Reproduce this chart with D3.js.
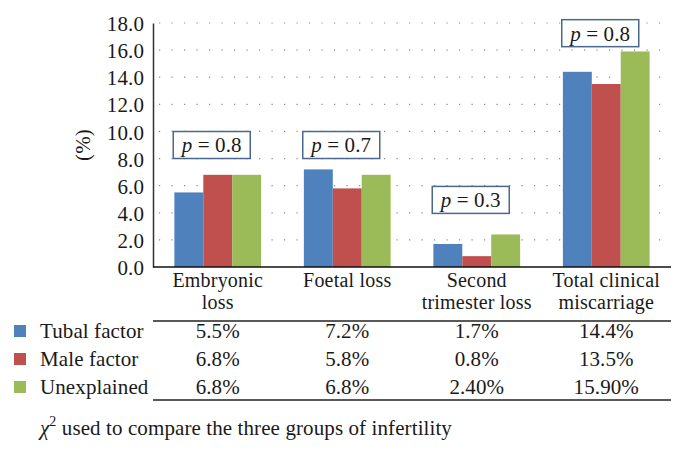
<!DOCTYPE html>
<html><head><meta charset="utf-8">
<script src="https://cdn.jsdelivr.net/npm/d3@7"></script>
<style>
body{margin:0;background:#fff;}
text{font-family:"Liberation Serif","Times New Roman",serif;fill:#1a1a1a;}
</style></head>
<body>
<svg id="c" width="686" height="450"></svg>
<script>
const categories = [["Embryonic","loss"],["Foetal loss"],["Second","trimester loss"],["Total clinical","miscarriage"]];
const seriesNames = ["Tubal factor","Male factor","Unexplained"];
const tubal = [5.5, 7.2, 1.7, 14.4];
const male = [6.8, 5.8, 0.8, 13.5];
const unexplained = [6.8, 6.8, 2.4, 15.9];
const tubalLabels = ["5.5%","7.2%","1.7%","14.4%"];
const maleLabels = ["6.8%","5.8%","0.8%","13.5%"];
const unexplainedLabels = ["6.8%","6.8%","2.40%","15.90%"];
const pValues = ["0.8","0.7","0.3","0.8"];
const pBoxCenter = [9.0, 9.0, 4.95, 17.25];
const yTicks = [0,2,4,6,8,10,12,14,16,18];
const colors = ["#4f81bd","#c0504d","#9bbb59"];

const series = [tubal, male, unexplained];
const labels = [tubalLabels, maleLabels, unexplainedLabels];
const svg = d3.select("#c");
const L = 153, R = 671, T = 23, B = 267;
const FS = 21, LS = 0.1;

const x0 = d3.scaleBand().domain(d3.range(categories.length)).range([L, R]).paddingInner(0.33).paddingOuter(0.165);
const x1 = d3.scaleBand().domain(d3.range(3)).range([0, x0.bandwidth()]);
const y = d3.scaleLinear().domain([0, 18]).range([B, T]);

// grid
svg.append("g").selectAll("line").data(yTicks.filter(d => d > 0)).join("line")
  .attr("x1", L + 6).attr("x2", R).attr("y1", d => y(d)).attr("y2", d => y(d))
  .attr("stroke", "#8a8a8a").attr("stroke-width", 1.2).attr("stroke-dasharray", "1.2,11.3");

// y axis
const yAxis = d3.axisLeft(y).tickValues(yTicks).tickFormat(d3.format(".1f")).tickSize(0).tickPadding(9);
const gy = svg.append("g").attr("transform", `translate(${L},0)`).call(yAxis);
gy.select(".domain").attr("stroke", "#333").attr("stroke-width", 1.5);
gy.selectAll("text").style("font-family", '"Liberation Serif",serif').attr("font-size", FS).attr("letter-spacing", LS).attr("fill", "#1a1a1a").attr("dy", "0.36em");

svg.append("text").attr("transform", "translate(90,145) rotate(-90)").attr("text-anchor", "middle")
  .attr("font-size", FS).attr("letter-spacing", LS).text("(%)");

// bars
const groups = svg.append("g").selectAll("g").data(categories.map((c, i) => i)).join("g")
  .attr("transform", i => `translate(${x0(i)},0)`);
groups.selectAll("rect").data(i => series.map((s, k) => ({k, v: s[i]}))).join("rect")
  .attr("x", d => x1(d.k)).attr("width", x1.bandwidth())
  .attr("y", d => y(d.v)).attr("height", d => B - y(d.v))
  .attr("fill", d => colors[d.k]);

// x axis line
svg.append("line").attr("x1", L).attr("x2", R).attr("y1", B).attr("y2", B).attr("stroke", "#111").attr("stroke-width", 1.6);

// p-boxes
const bw = 77, bh = 27;
const pg = svg.append("g").selectAll("g").data(pValues.map((p, i) => i)).join("g")
  .attr("transform", i => `translate(${x0(i) + x0.bandwidth()/2 - 6},${y(pBoxCenter[i])})`);
pg.append("rect").attr("x", -bw/2).attr("y", -bh/2).attr("width", bw).attr("height", bh)
  .attr("fill", "#fff").attr("stroke", "#4a6790").attr("stroke-width", 1.5);
const pt = pg.append("text").attr("text-anchor", "middle").attr("dy", "0.35em").attr("font-size", FS).attr("letter-spacing", LS);
pt.append("tspan").attr("font-style", "italic").text("p");
pt.append("tspan").text(i => " = " + pValues[i]);

// category labels (one text element per line)
categories.forEach((lines, i) => {
  lines.forEach((ln, j) => {
    svg.append("text").attr("x", x0(i) + x0.bandwidth()/2).attr("y", 287 + j * 21.5)
      .attr("text-anchor", "middle").attr("font-size", 20).attr("letter-spacing", 0.2).text(ln);
  });
});

// table lines
svg.append("line").attr("x1", L).attr("x2", R).attr("y1", 321).attr("y2", 321).attr("stroke", "#222").attr("stroke-width", 1.6);
svg.append("line").attr("x1", L).attr("x2", R).attr("y1", 400).attr("y2", 400).attr("stroke", "#222").attr("stroke-width", 1.6);

// table rows
const rowY = [338, 366, 394];
seriesNames.forEach((name, k) => {
  svg.append("rect").attr("x", 14).attr("y", rowY[k] - 13).attr("width", 12).attr("height", 12).attr("fill", colors[k]);
  svg.append("text").attr("x", 40).attr("y", rowY[k]).attr("font-size", FS).attr("letter-spacing", LS).text(name);
  svg.append("g").selectAll("text").data(labels[k]).join("text")
    .attr("x", (d, i) => x0(i) + x0.bandwidth()/2).attr("y", rowY[k]).attr("text-anchor", "middle")
    .attr("font-size", FS).attr("letter-spacing", LS).text(d => d);
});

// footnote
const fn = svg.append("text").attr("x", 40).attr("y", 435).attr("font-size", FS).attr("letter-spacing", LS);
fn.append("tspan").attr("font-style", "italic").text("χ");
fn.append("tspan").attr("font-size", 14).attr("dy", -9).text("2");
fn.append("tspan").attr("dy", 9).text(" used to compare the three groups of infertility");
</script>
</body></html>
